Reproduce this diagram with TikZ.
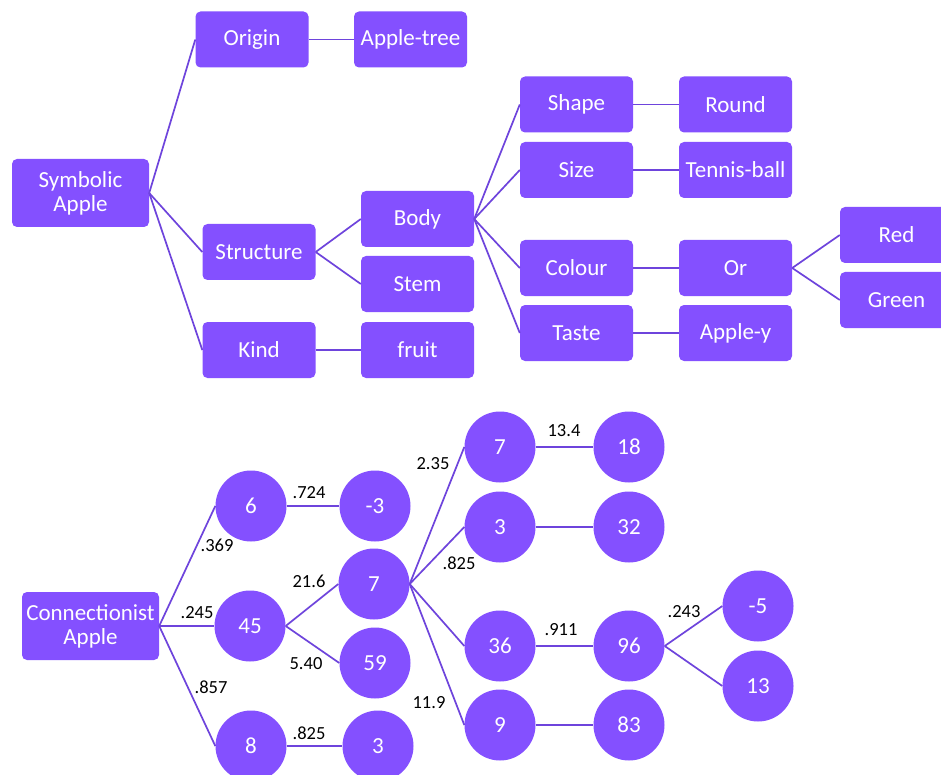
\documentclass[tikz,border=0pt]{standalone}
\usepackage{fontspec}
\setmainfont{Carlito}
\definecolor{nodefill}{HTML}{8450FF}
\definecolor{linkcol}{HTML}{6E44DC}
\tikzset{
  box/.style={rectangle, rounded corners=5pt, fill=nodefill, text=white,
    minimum width=113pt, minimum height=56pt, inner sep=0pt, align=center,
    font=\fontsize{23}{24}\selectfont},
  rootbox/.style={box, minimum width=137pt, minimum height=68pt},
  unit/.style={circle, fill=nodefill, text=white, minimum size=71pt,
    inner sep=0pt, font=\fontsize{23}{24}\selectfont},
  link/.style={draw=linkcol, line width=1.7pt},
  weight/.style={inner sep=0pt, text=black, font=\fontsize{18.5}{20}\selectfont}
}
\begin{document}
\begin{tikzpicture}[x=1pt,y=-1pt]
\clip (0,0) rectangle (941,775);
\fill[white] (0,0) rectangle (941,775);

% ---------- symbolic tree ----------
\node[rootbox] (sym) at (80.5,193) {Symbolic\\Apple};
\node[box] (origin) at (252,39.5) {Origin};
\node[box] (tree) at (410.5,39.5) {Apple-tree};
\node[box] (structure) at (259,252) {Structure};
\node[box] (kind) at (259,350) {Kind};
\node[box] (body) at (417.5,219) {Body};
\node[box] (stem) at (417.5,284) {Stem};
\node[box] (fruit) at (417.5,350) {fruit};
\node[box] (shape) at (576.5,104.5) {Shape};
\node[box] (size) at (576.5,170) {Size};
\node[box] (colour) at (576.5,268) {Colour};
\node[box] (taste) at (576.5,333) {Taste};
\node[box] (round) at (735.5,104.5) {Round};
\node[box] (tennis) at (735.5,170) {Tennis-ball};
\node[box] (or) at (735.5,268) {Or};
\node[box] (appley) at (735.5,333) {Apple-y};
\node[box] (red) at (896.5,235) {Red};
\node[box] (green) at (896.5,300) {Green};

\draw[link] (sym.east) -- (origin.west);
\draw[link] (sym.east) -- (structure.west);
\draw[link] (sym.east) -- (kind.west);
\draw[link] (origin) -- (tree);
\draw[link] (structure.east) -- (body.west);
\draw[link] (structure.east) -- (stem.west);
\draw[link] (kind) -- (fruit);
\draw[link] (body.east) -- (shape.west);
\draw[link] (body.east) -- (size.west);
\draw[link] (body.east) -- (colour.west);
\draw[link] (body.east) -- (taste.west);
\draw[link] (shape) -- (round);
\draw[link] (size) -- (tennis);
\draw[link] (colour) -- (or);
\draw[link] (taste) -- (appley);
\draw[link] (or.east) -- (red.west);
\draw[link] (or.east) -- (green.west);

% ---------- connectionist network ----------
\node[rootbox] (conn) at (90.5,626) {Connectionist\\Apple};
\node[unit] (u6) at (251,506) {6};
\node[unit] (um3) at (375,506) {-3};
\node[unit] (u45) at (250,626) {45};
\node[unit] (u7a) at (374,584) {7};
\node[unit] (u59) at (375,663) {59};
\node[unit] (u8) at (251,746) {8};
\node[unit] (u3a) at (378,746) {3};
\node[unit] (u7b) at (500,447) {7};
\node[unit] (u18) at (629,447) {18};
\node[unit] (u3b) at (500,527) {3};
\node[unit] (u32) at (629,527) {32};
\node[unit] (u36) at (500,646) {36};
\node[unit] (u96) at (629,646) {96};
\node[unit] (u9) at (500,725) {9};
\node[unit] (u83) at (629,725) {83};
\node[unit] (um5) at (758,606) {-5};
\node[unit] (u13) at (758,686) {13};

\draw[link] (conn.east) -- (u6.west);
\draw[link] (conn.east) -- (u45.west);
\draw[link] (conn.east) -- (u8.west);
\draw[link] (u6) -- (um3);
\draw[link] (u45.east) -- (u7a.west);
\draw[link] (u45.east) -- (u59.west);
\draw[link] (u8) -- (u3a);
\draw[link] (u7a.east) -- (u7b.west);
\draw[link] (u7a.east) -- (u3b.west);
\draw[link] (u7a.east) -- (u36.west);
\draw[link] (u7a.east) -- (u9.west);
\draw[link] (u7b) -- (u18);
\draw[link] (u3b) -- (u32);
\draw[link] (u36) -- (u96);
\draw[link] (u9) -- (u83);
\draw[link] (u96.east) -- (um5.west);
\draw[link] (u96.east) -- (u13.west);

% connection weights
\node[weight] (w724) at (309,493) {.724};
\node[weight] (w369) at (217,545) {.369};
\node[weight] (w245) at (197,613) {.245};
\node[weight] (w857) at (211,687) {.857};
\node[weight] (w216) at (309,581) {21.6};
\node[weight] (w540) at (306,664) {5.40};
\node[weight] (w825a) at (309,733) {.825};
\node[weight] (w235) at (433,464) {2.35};
\node[weight] (w119) at (429,703) {11.9};
\node[weight] (w825b) at (459,563) {.825};
\node[weight] (w134) at (564,431) {13.4};
\node[weight] (w911) at (561,630) {.911};
\node[weight] (w243) at (684,612) {.243};
\end{tikzpicture}
\end{document}
